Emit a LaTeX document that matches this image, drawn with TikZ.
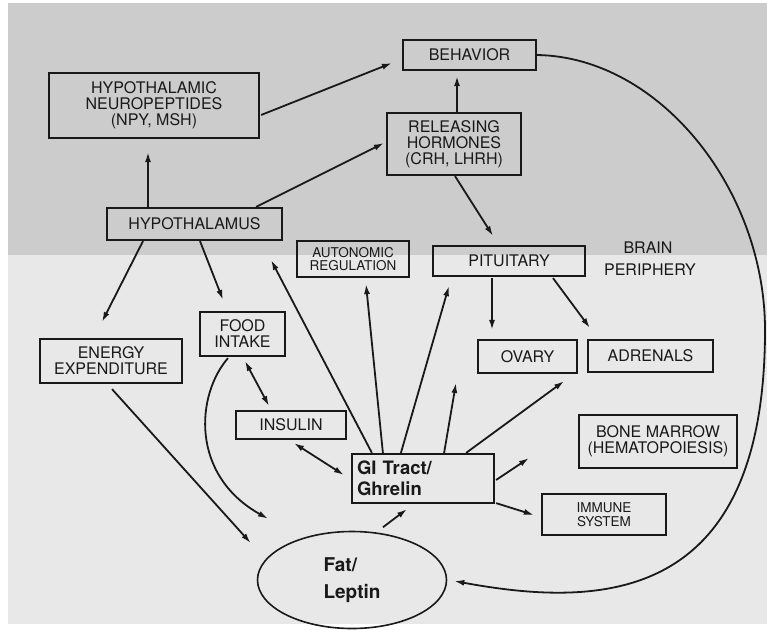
\documentclass[tikz,border=0pt]{standalone}
\usepackage{fontspec}
\setmainfont{TeX Gyre Heros}
\usepackage{tikz}
\usetikzlibrary{calc,arrows.meta,shapes.geometric}
\usepackage{xcolor}
\definecolor{braingray}{rgb}{0.80,0.80,0.80}
\definecolor{perigray}{rgb}{0.91,0.91,0.91}
\definecolor{inkgray}{rgb}{0.10,0.10,0.10}
\newcommand{\boxfont}{\fontsize{16}{16}\selectfont}
\newcommand{\smallfont}{\fontsize{13.5}{13.5}\selectfont}
\tikzset{
  box/.style={draw=inkgray,line width=2.2pt,align=center,inner sep=2pt,font=\boxfont,text=inkgray},
  smallbox/.style={box,font=\smallfont},
  arr/.style={draw=inkgray,line width=1.8pt,-{Latex[length=10pt,width=6pt]}},
  dblarr/.style={draw=inkgray,line width=1.8pt,{Latex[length=10pt,width=6pt]}-{Latex[length=10pt,width=6pt]}}
}

\begin{document}
\begin{tikzpicture}[x=1pt,y=-1pt]
        \useasboundingbox (0,0) rectangle (767,629);
        \fill[braingray] (8,3) rectangle (767,255);
        \fill[perigray] (8,255) rectangle (767,624);

        \node[box,minimum width=210,minimum height=65] (neuro) at (154,105.5) {HYPOTHALAMIC\\NEUROPEPTIDES\\(NPY, MSH)};
        \node[box,minimum width=175,minimum height=32] (hypo) at (194.5,224) {HYPOTHALAMUS};
        \node[box,minimum width=133,minimum height=30] (behav) at (469.5,55) {BEHAVIOR};
        \node[box,minimum width=134,minimum height=62] (relh) at (454,144) {RELEASING\\HORMONES\\(CRH, LHRH)};
        \node[smallbox,minimum width=112,minimum height=36] (auton) at (353,259) {AUTONOMIC\\REGULATION};
        \node[box,minimum width=152,minimum height=30] (pitu) at (509,261) {PITUITARY};
        \node[font=\boxfont,text=inkgray] (brain) at (648,248) {BRAIN};
        \node[font=\boxfont,text=inkgray] (peri) at (650,270) {PERIPHERY};
        \node[box,minimum width=85,minimum height=44] (food) at (242.5,334) {FOOD\\INTAKE};
        \node[box,minimum width=142,minimum height=44] (energy) at (111,361) {ENERGY\\EXPENDITURE};
        \node[box,minimum width=110,minimum height=28] (insul) at (291,425) {INSULIN};
        \node[box,minimum width=142,minimum height=49,text width=132,align=left,inner xsep=5pt,
              font=\fontsize{18.5}{21}\selectfont\bfseries] (gi) at (423,478.5) {GI Tract/\\Ghrelin};
        \node[box,minimum width=99,minimum height=33] (ovary) at (527.5,356.5) {OVARY};
        \node[box,minimum width=125,minimum height=32] (adren) at (650.5,356) {ADRENALS};
        \node[box,minimum width=158,minimum height=53] (bone) at (658,441.5) {BONE MARROW\\(HEMATOPOIESIS)};
        \node[smallbox,minimum width=124,minimum height=41] (immune) at (604,514.5) {IMMUNE\\SYSTEM};
        \node[ellipse,draw=inkgray,line width=1.6pt,minimum width=189,minimum height=97,align=left,
              text=inkgray,font=\fontsize{19}{27}\selectfont\bfseries] (fat) at (352,580) {Fat/\\Leptin};

        \coordinate (gout1) at (456,383);
        \coordinate (gout2) at (529,458);

        \draw[arr] ($(neuro.east)+(1,9.5)$) -- ($(behav.west)+(-10,8)$);
        \draw[arr] ($(hypo.north)+(-46.5,0)$) -- ($(neuro.south)+(-6,13)$);
        \draw[arr] ($(hypo.north east)+(-27,0)$) -- ($(relh.west)+(-2,-1)$);
        \draw[arr] ($(relh.north)+(3,0)$) -- ($(behav.south)+(-12.5,5)$);
        \draw[arr] ($(relh.south)+(1,0)$) -- ($(pitu.north)+(-16,-9)$);
        \draw[arr] (behav.east) .. controls (660,57) and (765,190) .. (765,330)
                   .. controls (765,605) and (600,608) .. ($(fat.east)+(7,1)$);
        \draw[arr] ($(hypo.south)+(-51.5,0)$) -- ($(energy.north)+(-9,-16)$);
        \draw[arr] ($(hypo.south)+(5.5,0)$) -- ($(food.north)+(-19.5,-11)$);
        \draw[arr] ($(energy.south)+(1,5)$) -- ($(fat.west)+(-6,-37)$);
        \draw[arr] ($(food.south)+(-14.5,1)$) .. controls (196,395) and (190,475) .. ($(fat.north)+(-84,-12)$);
        \draw[dblarr] ($(food.south)+(2.5,4)$) -- ($(insul.north)+(-22,-4)$);
        \draw[dblarr] ($(insul.south)+(3,3)$) -- ($(gi.west)+(-7,-3.5)$);
        \draw[arr] ($(gi.north west)+(21,0)$) -- ($(hypo.south east)+(-12,19)$);
        \draw[arr] ($(gi.north west)+(32,0)$) -- ($(auton.south)+(13,6)$);
        \draw[arr] ($(gi.north west)+(50,0)$) -- ($(pitu.south west)+(17,9)$);
        \draw[arr] ($(gi.north east)+(-51,0)$) -- (gout1);
        \draw[arr] ($(gi.north east)+(-29,0)$) -- ($(ovary.south east)+(-14,7)$);
        \draw[arr] ($(gi.east)+(1,1.5)$) -- (gout2);
        \draw[arr] ($(gi.south east)+(1,-1)$) -- ($(immune.west)+(-7,0.5)$);
        \draw[arr] ($(fat.north)+(31,-3.5)$) -- ($(gi.south)+(-16,5)$);
        \draw[arr] ($(pitu.south)+(-17,1)$) -- ($(ovary.north)+(-35.5,-9)$);
        \draw[arr] ($(pitu.south)+(44,1)$) -- ($(adren.north west)+(3,-11)$);

    \end{tikzpicture}
\end{document}
